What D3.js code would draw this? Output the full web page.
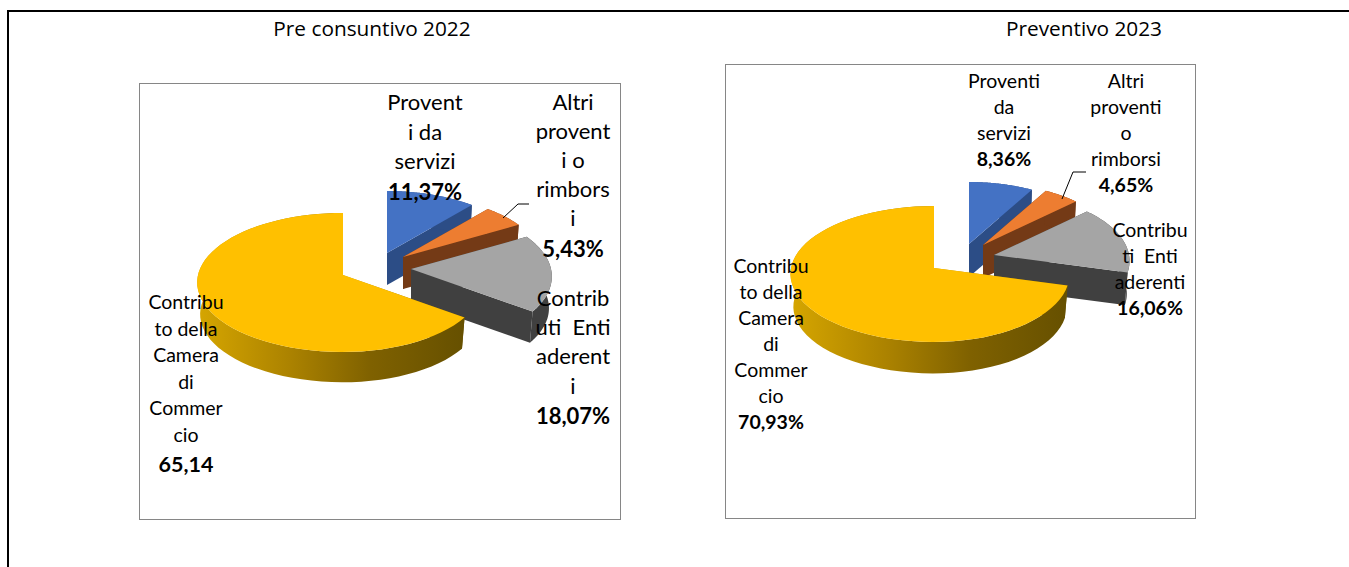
<!DOCTYPE html>
<html>
<head>
<meta charset="utf-8">
<script src="https://cdn.jsdelivr.net/npm/d3@7/dist/d3.min.js"></script>
<style>
  html, body { margin: 0; padding: 0; background: #fff; overflow: hidden; }
  svg { display: block; }
</style>
</head>
<body>
<div id="app"></div>
<script>
const categories = ['Proventi da servizi', 'Altri proventi o rimborsi', 'Contributi Enti aderenti', 'Contributo della Camera di Commercio'];
const values2022 = [11.37, 5.43, 18.07, 65.14];
const values2023 = [8.36, 4.65, 16.06, 70.93];
const valueText2022 = ['11,37%', '5,43%', '18,07%', '65,14'];
const valueText2023 = ['8,36%', '4,65%', '16,06%', '70,93%'];
const wrap2022 = [
  ['Provent', 'i da', 'servizi'],
  ['Altri', 'provent', 'i o', 'rimbors', 'i'],
  ['Contrib', 'uti  Enti', 'aderent', 'i'],
  ['Contribu', 'to della', 'Camera', 'di', 'Commer', 'cio']
];
const wrap2023 = [
  ['Proventi', 'da', 'servizi'],
  ['Altri', 'proventi', 'o', 'rimborsi'],
  ['Contribu', 'ti  Enti', 'aderenti'],
  ['Contribu', 'to della', 'Camera', 'di', 'Commer', 'cio']
];

const topColors = ['#4472c4', '#ed7d31', '#a5a5a5', '#ffc000'];
const sideColors = ['#2c4d86', '#743a16', '#404040', 'url(#gold)'];

const width = 1349;
const height = 567;

const charts = [
  {
    title: 'Pre consuntivo 2022', titleX: 372, values: values2022, valueText: valueText2022, wrap: wrap2022,
    box: [139.5, 83.5, 481, 436],
    rxLeft: 145, rxRight: 140, ryBack: 62, ryFront: 77, depth: 32,
    apex: [[387, 253], [403, 257], [411, 269], [343, 275]],
    labels: [
      { x: 425, y: 110, step: 29.5, size: 22, bold: 22, gap: 1 },
      { x: 573, y: 110, step: 29, size: 22, bold: 22, gap: 2 },
      { x: 573, y: 306, step: 29.2, size: 22, bold: 22, gap: 1 },
      { x: 186, y: 309, step: 26.5, size: 19.5, bold: 21.5, gap: 4 }
    ],
    leader: [[503, 218], [518, 204], [529, 204]]
  },
  {
    title: 'Preventivo 2023', titleX: 1084, values: values2023, valueText: valueText2023, wrap: wrap2023,
    box: [725.5, 64.5, 470, 454],
    rxLeft: 143, rxRight: 135, ryBack: 62, ryFront: 74, depth: 33,
    apex: [[969, 244], [983, 245], [994, 255], [934, 268]],
    labels: [
      { x: 1004, y: 88, step: 26, size: 19.5, bold: 19.5, gap: 0 },
      { x: 1126, y: 88, step: 26, size: 19.5, bold: 19.5, gap: 0 },
      { x: 1150, y: 237, step: 26, size: 19.5, bold: 19.5, gap: 0 },
      { x: 771, y: 273, step: 26, size: 19.5, bold: 19.5, gap: 0 }
    ],
    leader: [[1062, 199], [1073, 172], [1086, 172]]
  }
];

const svg = d3.select('#app').append('svg')
  .attr('width', width)
  .attr('height', height);

const gold = svg.append('defs').append('linearGradient').attr('id', 'gold');
gold.selectAll('stop')
  .data([[0, '#d6a600'], [0.35, '#ab8200'], [0.65, '#7f6100'], [1, '#665000']])
  .enter()
    .append('stop')
    .attr('offset', d => d[0])
    .attr('stop-color', d => d[1]);

// page frame, open on the right and at the bottom
svg.append('path')
  .attr('d', d3.line()([[8, height], [8, 11], [width, 11]]))
  .attr('fill', 'none')
  .attr('stroke', '#000')
  .attr('stroke-width', 2);

const line = d3.line();

const render = (chart) => {
  const g = svg.append('g');

  g.append('text')
    .attr('x', chart.titleX)
    .attr('y', 36)
    .attr('text-anchor', 'middle')
    .attr('font-family', '"Open Sans"')
    .attr('font-size', 20.8)
    .text(chart.title);

  g.append('rect')
    .attr('x', chart.box[0])
    .attr('y', chart.box[1])
    .attr('width', chart.box[2])
    .attr('height', chart.box[3])
    .attr('fill', '#fff')
    .attr('stroke', '#868686');

  // k and p turn the back and front radii into a tilted circle seen in perspective
  const k = 2 * chart.ryBack * chart.ryFront / (chart.ryBack + chart.ryFront);
  const p = (chart.ryFront - chart.ryBack) / (chart.ryFront + chart.ryBack);

  const project = (a, apex, r = 1, drop = 0) => {
    const z = Math.cos(a) * r;
    const s = 1 + p * z;
    const sx = Math.sin(a) * r;
    return [
      apex[0] + sx * (sx < 0 ? chart.rxLeft : chart.rxRight) / s,
      apex[1] - k * z / s + drop
    ];
  };

  const arcPoints = (d, apex, r = 1, drop = 0) =>
    d3.range(0, 65).map(i => project(d.startAngle + (d.endAngle - d.startAngle) * i / 64, apex, r, drop));

  const slices = d3.pie().sort(null)(chart.values);

  slices.forEach((d, i) => {
    const apex = chart.apex[i];
    const low = [apex[0], apex[1] + chart.depth];
    const shrink = 0.98;
    const wall = (a) => line([
      apex,
      project(a, apex),
      project(a, apex, shrink, chart.depth),
      low
    ]) + 'Z';

    g.append('path').attr('d', wall(d.startAngle)).attr('fill', sideColors[i]);
    g.append('path').attr('d', wall(d.endAngle)).attr('fill', sideColors[i]);
    g.append('path')
      .attr('d', line(arcPoints(d, apex).concat(arcPoints(d, apex, shrink, chart.depth).reverse())) + 'Z')
      .attr('fill', sideColors[i]);
    g.append('path')
      .attr('d', line([apex].concat(arcPoints(d, apex))) + 'Z')
      .attr('fill', topColors[i]);
  });

  g.append('path')
    .attr('d', line(chart.leader))
    .attr('fill', 'none')
    .attr('stroke', '#000');

  chart.labels.forEach((l, i) => {
    const text = g.append('text')
      .attr('text-anchor', 'middle')
      .attr('font-family', 'Lato')
      .attr('font-size', l.size)
      .attr('fill', '#000')
      .style('white-space', 'pre');

    chart.wrap[i].forEach((t, j) => {
      text.append('tspan').attr('x', l.x).attr('y', l.y + j * l.step).text(t);
    });
    text.append('tspan')
      .attr('x', l.x)
      .attr('y', l.y + chart.wrap[i].length * l.step + l.gap)
      .attr('font-weight', 700)
      .attr('font-size', l.bold)
      .text(chart.valueText[i]);
  });
};

charts.forEach(render);
</script>
</body>
</html>
